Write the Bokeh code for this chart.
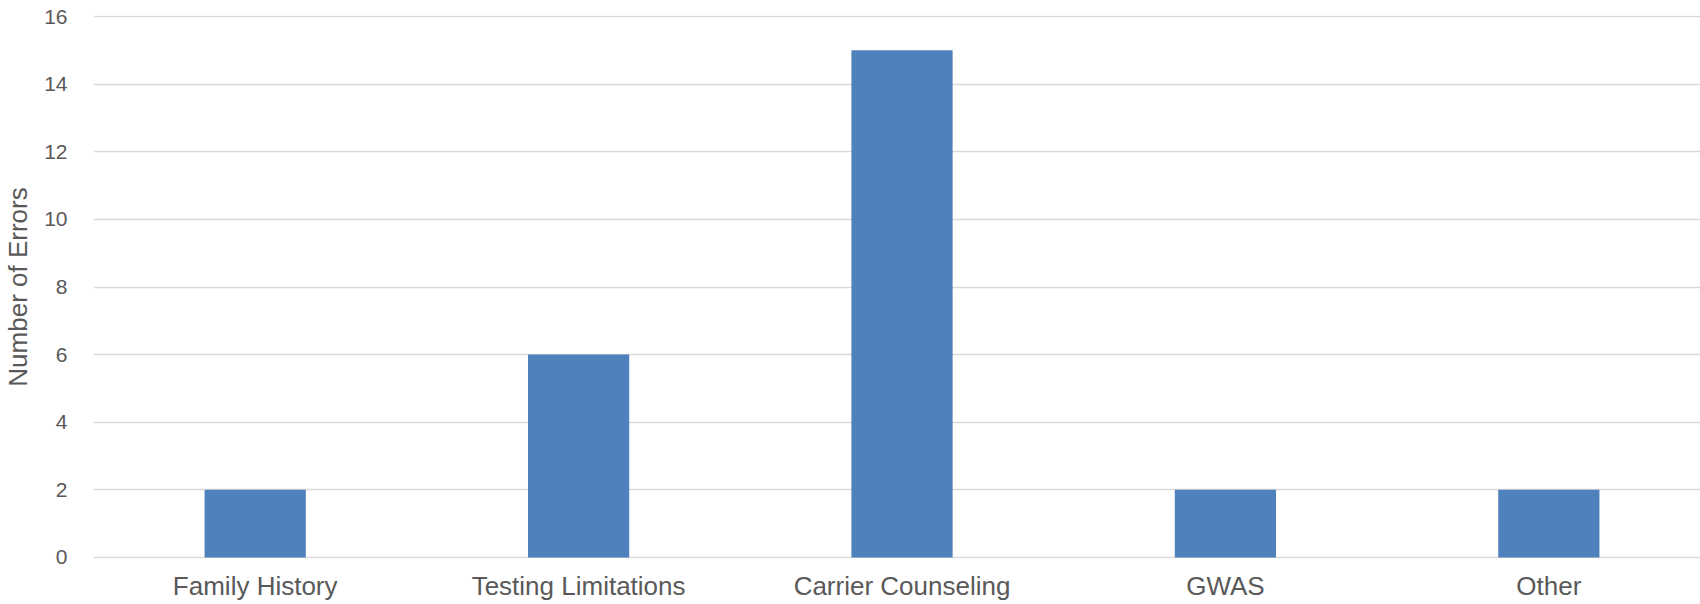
from bokeh.plotting import figure
from bokeh.models import Range1d, FixedTicker, ColumnDataSource
from bokeh.embed import file_html
from bokeh.resources import INLINE

categories = ["Family History", "Testing Limitations", "Carrier Counseling", "GWAS", "Other"]
errors = [2, 6, 15, 2, 2]
y_ticks = [0, 2, 4, 6, 8, 10, 12, 14, 16]

xpos = [i + 0.5 for i in range(len(categories))]
src = ColumnDataSource(dict(x=xpos, top=errors, cat=categories))

p = figure(width=1700, height=604, output_backend="svg", toolbar_location=None,
           x_range=Range1d(0, 4.969), y_range=Range1d(-0.03, 16.03),
           min_border_left=93, min_border_right=0, min_border_top=15, min_border_bottom=46)
p.outline_line_color = None
p.background_fill_color = "white"
p.border_fill_color = "white"

p.vbar(x="x", top="top", width=0.313, bottom=0, source=src,
       fill_color="#4f81bd", line_color=None)

# axes
p.xaxis.ticker = FixedTicker(ticks=xpos)
p.xaxis.major_label_overrides = {x: c for x, c in zip(xpos, categories)}
p.xaxis.axis_line_color = None
p.xaxis.major_tick_line_color = None
p.xaxis.major_tick_out = 0
p.xaxis.minor_tick_line_color = None
p.xaxis.major_label_text_font = "Liberation Sans"
p.xaxis.major_label_text_font_size = "26px"
p.xaxis.major_label_text_color = "#595959"
p.xaxis.major_label_standoff = 12

p.yaxis.ticker = FixedTicker(ticks=y_ticks)
p.yaxis.axis_line_color = None
p.yaxis.major_tick_line_color = None
p.yaxis.major_tick_out = 0
p.yaxis.minor_tick_line_color = None
p.yaxis.major_label_text_font = "Liberation Sans"
p.yaxis.major_label_text_font_size = "21px"
p.yaxis.major_label_text_color = "#595959"
p.yaxis.major_label_standoff = 26
p.yaxis.axis_label = "Number of Errors"
p.yaxis.axis_label_text_font = "Liberation Sans"
p.yaxis.axis_label_text_font_size = "26px"
p.yaxis.axis_label_text_font_style = "normal"
p.yaxis.axis_label_text_color = "#595959"
p.yaxis.axis_label_standoff = 8

p.xgrid.grid_line_color = None
p.ygrid.grid_line_color = "#d9d9d9"
p.ygrid.grid_line_width = 1.5

open("out.html", "w").write(file_html(p, INLINE))
